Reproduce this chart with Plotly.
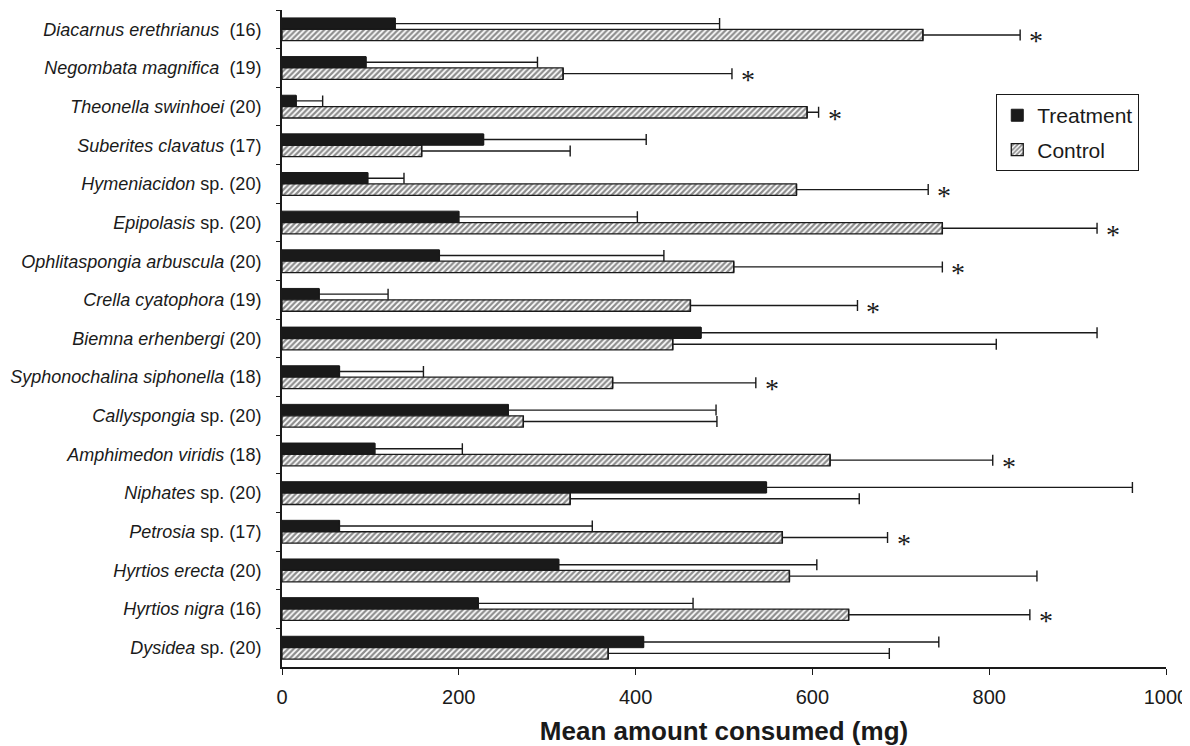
import plotly.graph_objects as go

# ---- data ----
species = [
    "<i>Diacarnus erethrianus</i>\u00a0\u00a0(16)",
    "<i>Negombata magnifica</i>\u00a0\u00a0(19)",
    "<i>Theonella swinhoei</i> (20)",
    "<i>Suberites clavatus</i> (17)",
    "<i>Hymeniacidon</i> sp. (20)",
    "<i>Epipolasis</i> sp. (20)",
    "<i>Ophlitaspongia arbuscula</i> (20)",
    "<i>Crella cyatophora</i> (19)",
    "<i>Biemna erhenbergi</i> (20)",
    "<i>Syphonochalina siphonella</i> (18)",
    "<i>Callyspongia</i> sp. (20)",
    "<i>Amphimedon viridis</i> (18)",
    "<i>Niphates</i> sp. (20)",
    "<i>Petrosia</i> sp. (17)",
    "<i>Hyrtios erecta</i> (20)",
    "<i>Hyrtios nigra</i> (16)",
    "<i>Dysidea</i> sp. (20)",
]
treatment = [128, 95, 16, 228, 97, 200, 178, 42, 474, 65, 256, 105, 548, 65, 313, 222, 409]
treatment_err = [367, 194, 30, 184, 41, 202, 254, 78, 448, 95, 235, 99, 414, 286, 292, 243, 334]
control = [725, 318, 594, 158, 582, 747, 511, 462, 442, 374, 273, 620, 326, 566, 574, 641, 369]
control_err = [110, 191, 13, 168, 149, 175, 236, 189, 366, 162, 219, 184, 327, 119, 280, 205, 318]
significant = [1, 1, 1, 0, 1, 1, 1, 1, 0, 1, 0, 1, 0, 1, 0, 1, 0]
x_ticks = [0, 200, 400, 600, 800, 1000]

FONT = "Liberation Sans, Arial, sans-serif"
INK = "#1a1a1a"

fig = go.Figure()
fig.add_trace(go.Bar(
    y=species, x=treatment, orientation="h", name="Treatment",
    legendgroup="t",
    marker=dict(color=INK, line=dict(color=INK, width=1)),
    error_x=dict(type="data", array=treatment_err, arrayminus=[0] * len(species),
                 symmetric=False, color=INK, thickness=1.4, width=5.5),
))
fig.add_trace(go.Bar(
    y=species, x=control, orientation="h", name="Control",
    legendgroup="c",
    marker=dict(color="white", line=dict(color=INK, width=1.3),
                pattern=dict(shape="/", fgcolor=INK, bgcolor="white", size=4, solidity=0.55)),
    error_x=dict(type="data", array=control_err, arrayminus=[0] * len(species),
                 symmetric=False, color=INK, thickness=1.4, width=5.5),
))

for i, sig in enumerate(significant):
    if sig:
        fig.add_annotation(
            x=control[i] + control_err[i], y=i + 0.17, xref="x", yref="y",
            text="*", showarrow=False, xanchor="center", yanchor="middle",
            xshift=16, yshift=-5,
            font=dict(family="Liberation Serif, Times New Roman, serif", size=28, color=INK),
        )

# the page body adds an 8 px offset, so the figure is 8 px smaller on each axis
fig.update_layout(
    width=1182, height=738,
    margin=dict(l=274, r=24, t=2, b=79, autoexpand=False),
    paper_bgcolor="white", plot_bgcolor="white",
    barmode="group", bargap=0.41, bargroupgap=0.0,
    font=dict(family=FONT, color=INK),
    legend=dict(
        x=0.808, y=0.872, xanchor="left", yanchor="top",
        bordercolor=INK, borderwidth=1, bgcolor="white",
        font=dict(size=21, family=FONT, color=INK),
        tracegroupgap=4, itemwidth=30,
    ),
    showlegend=True,
)
fig.update_yaxes(
    autorange="reversed", type="category", automargin=False,
    showline=True, linecolor=INK, linewidth=2,
    ticks="outside", tickson="boundaries", ticklen=4, tickcolor=INK, tickwidth=1,
    ticklabelstandoff=15,
    tickfont=dict(size=18, family=FONT, color=INK),
    showgrid=False, zeroline=False,
)
fig.update_xaxes(
    range=[0, 1000], tickvals=x_ticks, ticktext=[str(v) for v in x_ticks],
    automargin=False,
    showline=True, linecolor=INK, linewidth=2,
    ticks="outside", ticklen=6, tickcolor=INK, tickwidth=1,
    tickfont=dict(size=20, family=FONT, color=INK),
    ticklabelstandoff=5,
    showgrid=False, zeroline=False,
    title=dict(text="<b>Mean amount consumed (mg)</b>", standoff=16,
               font=dict(size=26, family=FONT, color=INK)),
)

fig.write_html("out.html")
